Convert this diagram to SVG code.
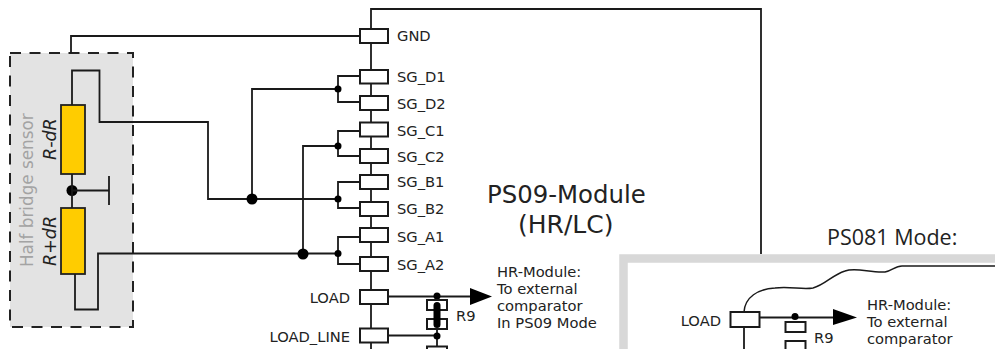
<svg xmlns="http://www.w3.org/2000/svg" width="995" height="349" viewBox="0 0 995 349">
<style>
text{font-family:"DejaVu Sans",Verdana,sans-serif;fill:#222;font-size:14.700px}
.w{fill:none;stroke:#1a1a1a;stroke-width:1.8}
.b{fill:#fff;stroke:#1a1a1a;stroke-width:2}
.y{fill:#ffcc00;stroke:#222;stroke-width:1.8}
.d{fill:#000}
.t{font-size:24.400px}
.i{font-style:italic;font-size:17.500px}
.e{text-anchor:end}
</style>
<rect width="995" height="349" fill="#fff"/>
<g id="module-outline"><path class="w" d="M371 29V9H761V254"/></g>
<g id="sensor">
<rect x="10" y="53" width="123" height="274" fill="#e3e3e3" stroke="#222" stroke-width="2" stroke-dasharray="11 8.5"/>
<text transform="translate(33 267) rotate(-90)" style="fill:#a3a3a3;font-size:16.800px">Half bridge sensor</text>
<rect class="y" x="61" y="105" width="24" height="69"/>
<rect class="y" x="61" y="208" width="24" height="66"/>
<text class="i" transform="translate(56 160) rotate(-90)">R-dR</text>
<text class="i" transform="translate(56 266) rotate(-90)">R+dR</text>
<circle class="d" cx="72" cy="190.500" r="5.500"/>
<path class="w" d="M72 174V208M72 190.500H109M109 176V205"/>
</g>
<g id="connectors">
<path class="w" d="M71 53V36H360"/>
<path class="w" d="M72 105V70.500H99.500V122H208V199H338"/>
<path class="w" d="M75 274V309.500H98V253.500H338"/>
<path class="w" d="M252 199V89H338M360 76H338V102H360"/>
<path class="w" d="M303 254V146H338M360 131H338V156H360"/>
<path class="w" d="M360 182H338V208H360M360 237H338V264H360"/>
<path class="w" d="M371 29V349"/>
<path class="w" d="M388 296.500H472M388 335.500H437M437 296V349"/>
<path d="M470 288L492 296.500L470 305Z" fill="#000"/>
<circle class="d" cx="252" cy="199" r="5.500"/>
<circle class="d" cx="303" cy="254" r="5.500"/>
<circle class="d" cx="338" cy="89" r="3.500"/>
<circle class="d" cx="338" cy="146" r="3.500"/>
<circle class="d" cx="338" cy="199" r="3.500"/>
<circle class="d" cx="338" cy="253.500" r="3.500"/>
<circle class="d" cx="437" cy="296" r="3.500"/>
<circle class="d" cx="437" cy="336" r="3.500"/>
</g>
<g id="pin-gnd"><rect class="b" x="360" y="29" width="28" height="14"/><text x="397" y="41">GND</text></g>
<g id="pin-sg-d1"><rect class="b" x="360" y="70" width="28" height="13.500"/><text x="397" y="82">SG_D1</text></g>
<g id="pin-sg-d2"><rect class="b" x="360" y="96" width="28" height="14"/><text x="397" y="109">SG_D2</text></g>
<g id="pin-sg-c1"><rect class="b" x="360" y="122.500" width="28" height="14"/><text x="397" y="136">SG_C1</text></g>
<g id="pin-sg-c2"><rect class="b" x="360" y="149" width="28" height="14"/><text x="397" y="162">SG_C2</text></g>
<g id="pin-sg-b1"><rect class="b" x="360" y="175" width="28" height="14"/><text x="397" y="187">SG_B1</text></g>
<g id="pin-sg-b2"><rect class="b" x="360" y="202" width="28" height="14"/><text x="397" y="214">SG_B2</text></g>
<g id="pin-sg-a1"><rect class="b" x="360" y="228" width="28" height="14"/><text x="397" y="242">SG_A1</text></g>
<g id="pin-sg-a2"><rect class="b" x="360" y="257" width="28" height="14"/><text x="397" y="270">SG_A2</text></g>
<g id="pin-load"><rect class="b" x="360" y="290" width="28" height="14"/><text class="e" x="350" y="303">LOAD</text></g>
<g id="pin-load-line"><rect class="b" x="360" y="328.500" width="28" height="14"/><text class="e" x="350" y="342">LOAD_LINE</text></g>
<g id="r9">
<rect class="b" x="427" y="300" width="20" height="10"/>
<rect class="b" x="427" y="319" width="20" height="10"/>
<rect x="433.500" y="302" width="7" height="26" rx="3.500" fill="#000"/>
<rect class="b" x="427" y="346.500" width="20" height="10"/>
<text x="456" y="321">R9</text>
</g>
<g id="hr-note"><text x="497" y="277">HR-Module:</text><text x="497" y="294">To external</text><text x="497" y="311">comparator</text><text x="497" y="328">In PS09 Mode</text></g>
<g id="title"><text class="t" x="487" y="203">PS09-Module</text><text class="t" x="518" y="233" style="font-size:25px">(HR/LC)</text></g>
<g id="ps081">
<text x="827" y="245" style="font-family:'Open Sans',sans-serif;font-size:21.500px">PS081 Mode:</text>
<path d="M995 258.500H623.500V349" fill="#fff" stroke="#d8d8d8" stroke-width="8.500"/>
<rect x="628" y="263" width="367" height="86" fill="#fff"/>
<path class="w" style="stroke-width:1.500" d="M744 312C745 297 758 289 775 288C790 286 802 290 813 288C825 285 832 275 845 271C856 267 870 273 885 272C892 271 895 266 902 266H995"/>
<path class="w" d="M744 327V349M759 317.500H835"/>
<rect class="b" x="730.500" y="312" width="29" height="15"/>
<path d="M833 309L857 317.500L833 325Z" fill="#000"/>
<circle class="d" cx="795" cy="316.500" r="3.500"/>
<rect class="b" x="785.500" y="322" width="20" height="10"/>
<rect class="b" x="785.500" y="341" width="20" height="14"/>
<text class="e" x="721" y="326">LOAD</text>
<text x="814" y="343">R9</text>
<text x="867" y="310">HR-Module:</text><text x="867" y="327">To external</text><text x="867" y="344">comparator</text>
</g>
</svg>
